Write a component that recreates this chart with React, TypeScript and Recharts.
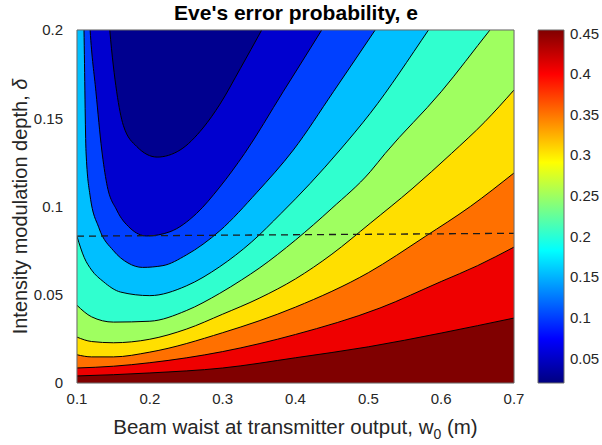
import React from 'react';
import { ComposedChart, Area, Line, XAxis, YAxis, CartesianGrid, ReferenceLine, ReferenceArea } from 'recharts';

// Tick values
const wTicks = [0.1, 0.2, 0.3, 0.4, 0.5, 0.6, 0.7];
const dTicks = [0, 0.05, 0.1, 0.15, 0.2];
const cbTicks = [0.05, 0.1, 0.15, 0.2, 0.25, 0.3, 0.35, 0.4, 0.45];
const cbRange = [0.0195, 0.454];

// Contour lines of e: [w0, delta]
const c045: [number, number][] = [[0.1, 0.004], [0.15, 0.0047], [0.2, 0.0057], [0.3, 0.0085], [0.4, 0.0143], [0.5, 0.0205], [0.6, 0.0283], [0.7, 0.0368]];
const c040: [number, number][] = [[0.1, 0.0085], [0.15, 0.0095], [0.2, 0.0115], [0.3, 0.0178], [0.4, 0.0275], [0.516, 0.0425], [0.6, 0.0575], [0.65, 0.0665], [0.7, 0.077]];
const c035: [number, number][] = [[0.1, 0.016], [0.12, 0.0148], [0.15, 0.0148], [0.2, 0.0175], [0.3, 0.0285], [0.4, 0.043], [0.5, 0.0625], [0.578, 0.083], [0.64, 0.1], [0.7, 0.119]];
const c030: [number, number][] = [[0.1, 0.026], [0.12, 0.0235], [0.15, 0.0228], [0.2, 0.0248], [0.25, 0.0305], [0.3, 0.039], [0.35, 0.048], [0.4, 0.059], [0.45, 0.073], [0.5026, 0.0905], [0.56, 0.11], [0.614, 0.13], [0.66, 0.148], [0.7, 0.166]];
const c025: [number, number][] = [[0.1, 0.044], [0.12, 0.0375], [0.15, 0.0345], [0.2, 0.035], [0.25, 0.041], [0.296, 0.0508], [0.326, 0.0584], [0.35, 0.065], [0.4, 0.081], [0.45, 0.099], [0.5026, 0.1197], [0.523, 0.13], [0.6, 0.165], [0.667, 0.2], [0.7, 0.217]];
const c020: [number, number][] = [[0.1, 0.083], [0.11, 0.071], [0.12, 0.064], [0.136, 0.0575], [0.16, 0.0515], [0.2, 0.0495], [0.25, 0.055], [0.296, 0.0659], [0.34, 0.08], [0.38, 0.096], [0.42, 0.113], [0.461, 0.132], [0.5026, 0.1528], [0.5826, 0.2], [0.62, 0.223]];
const c015: [number, number][] = [[0.105, 0.3], [0.1096, 0.2], [0.1124, 0.131], [0.118, 0.106], [0.13, 0.088], [0.15, 0.075], [0.17, 0.068], [0.19, 0.0655], [0.218, 0.0665], [0.25, 0.0725], [0.296, 0.0862], [0.347, 0.108], [0.397, 0.132], [0.452, 0.165], [0.5094, 0.2], [0.55, 0.225]];
const c010: [number, number][] = [[0.11, 0.27], [0.118, 0.2], [0.126, 0.165], [0.134, 0.132], [0.1408, 0.113], [0.1545, 0.098], [0.1728, 0.0878], [0.1957, 0.0833], [0.2277, 0.0857], [0.264, 0.096], [0.296, 0.111], [0.33, 0.13], [0.383, 0.165], [0.436, 0.2], [0.48, 0.23]];
const c005: [number, number][] = [[0.135, 0.26], [0.145, 0.2], [0.1545, 0.165], [0.1636, 0.146], [0.182, 0.134], [0.21, 0.128], [0.2415, 0.132], [0.273, 0.1445], [0.2963, 0.158], [0.324, 0.178], [0.3536, 0.2], [0.38, 0.22]];
const floor: [number, number][] = [[0.1, 0], [0.7, 0]];
const dashLine: [number, number][] = [[0.1, 0.0832], [0.7, 0.0848]];

const FONT = '"Liberation Sans", Arial, Helvetica, sans-serif';
const TXT = '#262626';
const AX = '#6b6b6b';

const toData = (pts: [number, number][]) => pts.map(([w, d]) => ({ w, d }));

const bands = [
  { pts: floor, fill: '#800000', line: false },
  { pts: c045, fill: '#ef0000', line: true },
  { pts: c040, fill: '#ff7000', line: true },
  { pts: c035, fill: '#ffdf00', line: true },
  { pts: c030, fill: '#9fff60', line: true },
  { pts: c025, fill: '#30ffcf', line: true },
  { pts: c020, fill: '#00bfff', line: true },
  { pts: c015, fill: '#0040ff', line: true },
  { pts: c010, fill: '#0000cf', line: true },
  { pts: c005, fill: '#00008f', line: true },
];

const XLabel = (props: any) => {
  const vb = props.viewBox;
  const cx = vb.x + vb.width / 2;
  return (
    <text x={cx} y={434} textAnchor="middle" fontSize={20.5} fill={TXT} fontFamily={FONT}>
      Beam waist at transmitter output, w<tspan dy={5} fontSize={14}>0</tspan><tspan dy={-5}> (m)</tspan>
    </text>
  );
};

const YLabel = (props: any) => {
  const vb = props.viewBox;
  const cy = vb.y + vb.height / 2;
  return (
    <text x={27} y={cy} transform={`rotate(-90, 27, ${cy})`} textAnchor="middle" fontSize={20} fill={TXT} fontFamily={FONT}>
      Intensity modulation depth, <tspan fontStyle="italic">δ</tspan>
    </text>
  );
};

export default function App() {
  return (
    <div style={{ position: 'absolute', left: 0, top: 0, width: 602, height: 445, background: '#fff', fontFamily: FONT }}>
      <div style={{ position: 'absolute', left: 0, top: 0 }}>
        <ComposedChart width={602} height={445} margin={{ top: 30, right: 88, bottom: 32, left: 37 }}>
          <XAxis type="number" dataKey="w" domain={[0.1, 0.7]} ticks={wTicks} allowDataOverflow
            tickLine={false} axisLine={{ stroke: AX }} height={30} tickMargin={10} tickSize={0}
            tick={{ fontSize: 15, fill: TXT, fontFamily: FONT }} label={<XLabel />} />
          <YAxis type="number" domain={[0, 0.2]} ticks={dTicks} allowDataOverflow width={40}
            tickLine={false} axisLine={{ stroke: AX }} tickMargin={14} tickSize={0}
            tick={{ fontSize: 15, fill: TXT, fontFamily: FONT }} label={<YLabel />} />
          {bands.map((b, i) => (
            <Area key={i} data={toData(b.pts)} dataKey="d" baseValue={0.2} type="monotone"
              fill={b.fill} fillOpacity={1} stroke={b.line ? '#000' : 'none'} strokeWidth={1}
              isAnimationActive={false} dot={false} activeDot={false} />
          ))}
          <CartesianGrid stroke="#262626" strokeOpacity={0.15} />
          <Line data={toData(dashLine)} dataKey="d" type="linear" stroke="#1a1a1a" strokeWidth={1.3}
            strokeDasharray="7 5" dot={false} activeDot={false} isAnimationActive={false} />
          <ReferenceLine y={0.2} stroke={AX} />
          <ReferenceLine x={0.7} stroke={AX} />
        </ComposedChart>
      </div>
      <div style={{ position: 'absolute', left: 0, top: 0 }}>
        <ComposedChart width={602} height={445} margin={{ top: 30, right: 0, bottom: 62, left: 538 }}
          data={[{ x: 0 }, { x: 1 }]}>
          <defs>
            <linearGradient id="jetGrad" x1="0" y1="0" x2="0" y2="1">
              <stop offset="0%" stopColor="#800000" />
              <stop offset="12.5%" stopColor="#ff0000" />
              <stop offset="37.5%" stopColor="#ffff00" />
              <stop offset="62.5%" stopColor="#00ffff" />
              <stop offset="87.5%" stopColor="#0000ff" />
              <stop offset="100%" stopColor="#000080" />
            </linearGradient>
          </defs>
          <XAxis type="number" dataKey="x" domain={[0, 1]} hide />
          <YAxis type="number" orientation="right" domain={cbRange} ticks={cbTicks} allowDataOverflow width={38}
            tickLine={false} axisLine={false} tickMargin={6} tickSize={0}
            tick={{ fontSize: 15, fill: TXT, fontFamily: FONT }} />
          <ReferenceArea x1={0} x2={1} y1={cbRange[0]} y2={cbRange[1]} fill="url(#jetGrad)" fillOpacity={1} stroke={AX} />
        </ComposedChart>
      </div>
      <svg width={602} height={30} style={{ position: 'absolute', left: 0, top: 0 }}>
        <text x={296} y={20} textAnchor="middle" fontSize={21} fontWeight="bold" fill="#000" fontFamily={FONT}>Eve's error probability, e</text>
      </svg>
    </div>
  );
}
